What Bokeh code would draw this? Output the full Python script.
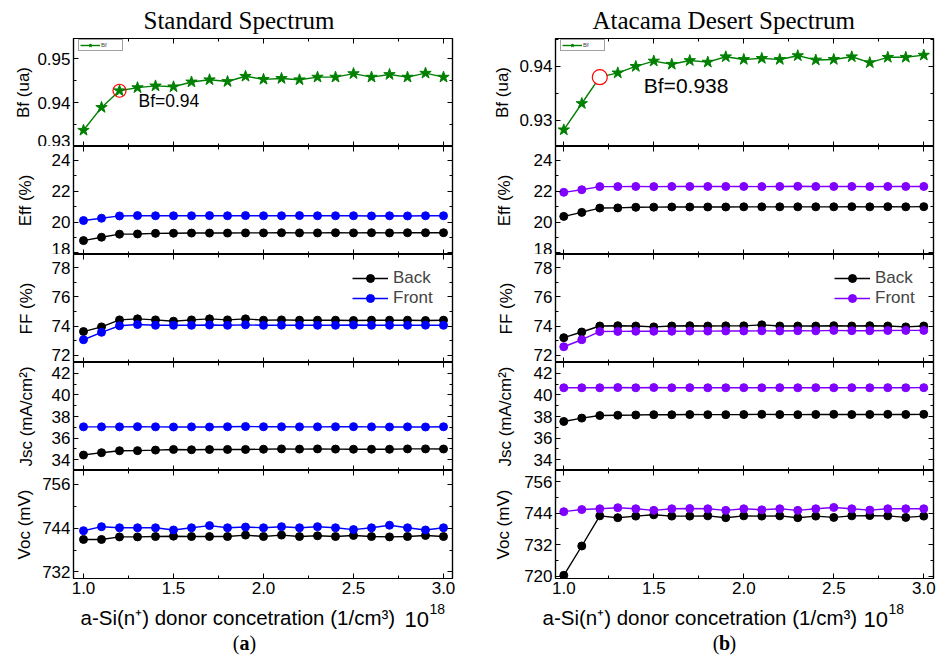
from bokeh.plotting import figure
from bokeh.models import (Range1d, LinearAxis, SingleIntervalTicker, Legend, LegendItem,
                          ColumnDataSource, Label, PrintfTickFormatter, CustomLabelingPolicy)
from bokeh.layouts import column, row
from bokeh.embed import file_html
from bokeh.resources import INLINE

# ---------------- data ----------------
conc = [1.0, 1.1, 1.2, 1.3, 1.4, 1.5, 1.6, 1.7, 1.8, 1.9, 2.0,
        2.1, 2.2, 2.3, 2.4, 2.5, 2.6, 2.7, 2.8, 2.9, 3.0]

# Standard spectrum
bf_std = [0.9337, 0.9389, 0.9427, 0.9434, 0.9438, 0.9436, 0.9447, 0.9452, 0.9448, 0.9460, 0.9453,
          0.9455, 0.9452, 0.9458, 0.9458, 0.9466, 0.9458, 0.9464, 0.9458, 0.9467, 0.9458]
eff_back_std = [18.80, 19.02, 19.22, 19.23, 19.27, 19.28, 19.29, 19.29, 19.29, 19.30, 19.30,
                19.31, 19.30, 19.30, 19.31, 19.30, 19.31, 19.30, 19.31, 19.31, 19.31]
eff_front_std = [20.10, 20.25, 20.40, 20.42, 20.41, 20.41, 20.41, 20.42, 20.41, 20.42, 20.41,
                 20.41, 20.42, 20.41, 20.41, 20.41, 20.40, 20.41, 20.40, 20.41, 20.41]
ff_back_std = [73.62, 73.94, 74.42, 74.49, 74.42, 74.33, 74.42, 74.49, 74.42, 74.49, 74.40,
               74.42, 74.40, 74.40, 74.40, 74.38, 74.40, 74.40, 74.40, 74.38, 74.40]
ff_front_std = [73.06, 73.57, 74.02, 74.10, 74.05, 74.05, 74.05, 74.07, 74.05, 74.08, 74.05,
                74.06, 74.05, 74.05, 74.05, 74.07, 74.05, 74.05, 74.05, 74.06, 74.05]
jsc_back_std = [34.43, 34.65, 34.83, 34.84, 34.89, 34.95, 34.92, 34.94, 34.95, 34.95, 34.97,
                35.00, 34.98, 35.00, 34.98, 34.97, 34.97, 34.97, 35.00, 35.00, 34.99]
jsc_front_std = [37.04, 37.04, 37.04, 37.06, 37.04, 37.03, 37.04, 37.03, 37.05, 37.07, 37.05,
                 37.05, 37.04, 37.04, 37.05, 37.06, 37.04, 37.03, 37.04, 37.03, 37.05]
voc_back_std = [740.9, 740.9, 741.6, 741.6, 741.7, 741.8, 741.7, 741.7, 741.7, 742.1, 741.7,
                742.1, 741.7, 741.9, 741.7, 742.0, 741.7, 741.6, 741.7, 742.0, 741.7]
voc_front_std = [743.3, 744.4, 744.1, 744.1, 744.1, 743.5, 744.1, 744.7, 744.1, 744.3, 744.1,
                 744.4, 744.1, 744.4, 744.1, 743.6, 744.1, 744.8, 744.1, 743.5, 744.1]

# Atacama desert spectrum
bf_ata = [0.9282, 0.9331, 0.9380, 0.9388, 0.9400, 0.9410, 0.9404, 0.9411, 0.9408, 0.9418, 0.9413,
          0.9415, 0.9413, 0.9420, 0.9412, 0.9413, 0.9418, 0.9407, 0.9417, 0.9417, 0.9421]
eff_back_ata = [20.37, 20.63, 20.91, 20.92, 20.96, 20.97, 20.98, 20.98, 20.98, 20.98, 20.99,
                20.99, 20.99, 20.99, 20.99, 20.99, 21.00, 20.99, 21.00, 20.99, 21.00]
eff_front_ata = [21.93, 22.10, 22.30, 22.30, 22.31, 22.30, 22.31, 22.31, 22.31, 22.31, 22.31,
                 22.30, 22.31, 22.32, 22.31, 22.31, 22.31, 22.30, 22.31, 22.31, 22.31]
ff_back_ata = [73.20, 73.59, 74.00, 74.02, 74.00, 73.94, 74.00, 74.02, 74.00, 74.01, 74.01,
               74.08, 74.00, 74.00, 74.00, 74.02, 74.00, 74.02, 74.00, 73.94, 74.00]
ff_front_ata = [72.58, 73.06, 73.62, 73.63, 73.64, 73.64, 73.64, 73.65, 73.65, 73.66, 73.66,
                73.67, 73.66, 73.68, 73.67, 73.70, 73.68, 73.68, 73.69, 73.70, 73.70]
jsc_back_ata = [37.54, 37.85, 38.09, 38.12, 38.14, 38.17, 38.16, 38.18, 38.17, 38.17, 38.18,
                38.20, 38.18, 38.17, 38.19, 38.20, 38.18, 38.19, 38.20, 38.19, 38.20]
jsc_front_ata = [40.66, 40.66, 40.66, 40.68, 40.66, 40.68, 40.66, 40.67, 40.66, 40.66, 40.67,
                 40.66, 40.67, 40.66, 40.67, 40.66, 40.67, 40.66, 40.67, 40.66, 40.67]
voc_back_ata = [720.3, 731.5, 743.0, 742.3, 742.9, 743.4, 742.9, 742.9, 743.0, 742.3, 743.0,
                742.9, 743.0, 742.3, 742.9, 742.4, 743.0, 743.1, 743.0, 742.4, 742.9]
voc_front_ata = [744.6, 745.4, 745.7, 746.1, 745.7, 745.1, 745.7, 745.8, 745.7, 745.1, 745.7,
                 745.3, 745.7, 745.1, 745.7, 746.2, 745.7, 745.2, 745.7, 745.7, 745.7]

titles = ["Standard Spectrum", "Atacama Desert Spectrum"]
panel_letters = ["a", "b"]
y_labels = ["Bf (ua)", "Eff (%)", "FF (%)", "Jsc (mA/cm\u00b2)", "Voc (mV)"]
x_label_main = "a-Si(n\u207a) donor concetration  (1/cm\u00b3)"
x_label_base = "10"
x_label_exp = "18"
series_names = ["Back", "Front"]

# ---------------- styling ----------------
SANS = "Liberation Sans"
SERIF = "Liberation Serif"
BLACK = "#000000"
GREEN = "#008000"
FRAME_H = 108
BOTTOM_AXIS = 20
CAP_H = 59
NO_LABELS = CustomLabelingPolicy(code="return []")


def style_axis(ax, labels=True):
    ax.major_tick_in = 5
    ax.major_tick_out = 0
    ax.minor_tick_in = 3
    ax.minor_tick_out = 0
    ax.axis_line_color = BLACK
    ax.axis_line_width = 1.2
    ax.major_tick_line_color = BLACK
    ax.minor_tick_line_color = BLACK
    if labels:
        ax.major_label_text_font = SANS
        ax.major_label_text_font_size = "17px"
        ax.major_label_text_color = BLACK
        ax.major_label_standoff = 3
        ax.axis_label_text_font = SANS
        ax.axis_label_text_font_size = "17px"
        ax.axis_label_text_font_style = "normal"
        ax.axis_label_text_color = BLACK
    else:
        ax.major_label_text_font_size = "0px"
        ax.major_label_standoff = 0
        ax.major_label_policy = NO_LABELS
        ax.axis_label = None


def make_panel(col, idx, x0, x1, yr, interval, ylabel, fw, bl, br, lab_standoff, title_off):
    top = idx == 0
    bottom = idx == 4
    p = figure(frame_width=fw, frame_height=FRAME_H,
               min_border_left=bl, min_border_right=br,
               min_border_top=38 if top else 0,
               min_border_bottom=BOTTOM_AXIS if bottom else 0,
               x_range=Range1d(x0, x1), y_range=Range1d(*yr),
               toolbar_location=None, output_backend="svg")
    p.grid.visible = False
    p.outline_line_color = BLACK
    p.outline_line_width = 1.2
    p.background_fill_color = "white"
    p.border_fill_color = "white"

    xa = p.xaxis[0]
    xa.ticker = SingleIntervalTicker(interval=0.5, num_minor_ticks=2)
    style_axis(xa, labels=bottom)
    if bottom:
        xa.formatter = PrintfTickFormatter(format="%.1f")
    ya = p.yaxis[0]
    ya.ticker = SingleIntervalTicker(interval=interval, num_minor_ticks=2)
    style_axis(ya, labels=True)
    ya.axis_label = ylabel
    ya.axis_label_standoff = lab_standoff

    ax_top = LinearAxis(ticker=SingleIntervalTicker(interval=0.5, num_minor_ticks=2))
    style_axis(ax_top, labels=False)
    p.add_layout(ax_top, "above")
    ax_right = LinearAxis(ticker=SingleIntervalTicker(interval=interval, num_minor_ticks=2))
    style_axis(ax_right, labels=False)
    p.add_layout(ax_right, "right")

    if top:
        p.title.text = titles[col]
        p.title.align = "left"
        p.title.offset = title_off
        p.title.text_font = SERIF
        p.title.text_font_size = "25px"
        p.title.text_font_style = "normal"
        p.title.text_color = BLACK
        p.title.standoff = 9
    return p


def make_caption(col, width, main_x, base_x, letter_x):
    """Strip below the bottom panel holding the x-axis title and the panel letter,
    laid out in pixel units of its own frame."""
    c = figure(frame_width=width, frame_height=CAP_H, min_border=0,
               x_range=Range1d(0, width), y_range=Range1d(0, CAP_H),
               x_axis_location=None, y_axis_location=None, frame_align=False,
               toolbar_location=None, output_backend="svg")
    c.grid.visible = False
    c.outline_line_color = None
    c.background_fill_color = "white"
    c.border_fill_color = "white"
    common = dict(text_font=SANS, text_color=BLACK, text_baseline="alphabetic")
    c.add_layout(Label(x=main_x, y=CAP_H - 19, text=x_label_main, text_font_size="20.5px",
                       text_align="left", **common))
    c.add_layout(Label(x=base_x, y=CAP_H - 21, text=x_label_base, text_font_size="22px",
                       text_align="left", **common))
    c.add_layout(Label(x=base_x + 25, y=CAP_H - 10, text=x_label_exp, text_font_size="14px",
                       text_align="left", **common))
    ser = dict(text_font=SERIF, text_color=BLACK, text_baseline="middle", text_font_size="20px")
    ly = CAP_H - 44
    c.add_layout(Label(x=letter_x - 5, y=ly, text="(", text_align="right", **ser))
    c.add_layout(Label(x=letter_x, y=ly, text=panel_letters[col], text_align="center",
                       text_font_style="bold", **ser))
    c.add_layout(Label(x=letter_x + 5, y=ly, text=")", text_align="left", **ser))
    return c


def add_pair(p, back, front, front_color):
    src = ColumnDataSource(dict(x=conc, back=back, front=front))
    p.line("x", "back", source=src, line_color=BLACK, line_width=1.4)
    p.scatter("x", "back", source=src, size=8, fill_color=BLACK, line_color=BLACK)
    p.line("x", "front", source=src, line_color=front_color, line_width=1.4)
    p.scatter("x", "front", source=src, size=8, fill_color=front_color, line_color=front_color)


def add_bf(p, bf, circ_size, circ_fill, label_text, font_size, xoff, yoff):
    src = ColumnDataSource(dict(x=conc, y=bf))
    l = p.line("x", "y", source=src, line_color=GREEN, line_width=1.4)
    s = p.scatter("x", "y", source=src, marker="star", size=12, fill_color=GREEN, line_color=GREEN)
    p.scatter([conc[2]], [bf[2]], marker="circle", size=circ_size, fill_color=circ_fill,
              line_color="#ff0000", line_width=1.2)
    p.add_layout(Label(x=conc[2], y=bf[2], x_offset=xoff, y_offset=yoff, text=label_text,
                       text_font=SANS, text_font_size=font_size, text_color=BLACK,
                       text_baseline="middle"))
    leg = Legend(items=[LegendItem(label="Bf", renderers=[l, s])], location=(5, FRAME_H - 13),
                 label_text_font=SANS, label_text_font_size="6px", label_height=8,
                 glyph_height=8, glyph_width=20, padding=1, spacing=0, margin=0,
                 label_standoff=1, border_line_color="#444444", border_line_width=1,
                 background_fill_alpha=1.0)
    p.add_layout(leg, "center")


def add_ff_legend(p, back, front, front_color, x_loc):
    r = []
    for c, vals in ((BLACK, back), (front_color, front)):
        src = ColumnDataSource(dict(x=conc, y=vals))
        ln = p.line("x", "y", source=src, line_color=c, line_width=1.4, visible=False)
        sc = p.scatter("x", "y", source=src, size=14, fill_color=c, line_color=c, visible=False)
        r.append([ln, sc])
    leg = Legend(items=[LegendItem(label=series_names[0], renderers=r[0]),
                        LegendItem(label=series_names[1], renderers=r[1])],
                 location=(x_loc, 54), label_text_font=SANS, label_text_font_size="17px",
                 label_height=20, glyph_height=20, glyph_width=36, padding=0, spacing=0,
                 margin=0, label_standoff=5, border_line_color=None,
                 background_fill_alpha=0.0, inactive_fill_alpha=0.0)
    p.add_layout(leg, "center")


def build_column(col, x0, x1, fw, bl, br, data, yranges, intervals, standoffs,
                 front_color, bfopts, textpos, title_off):
    figs = []
    for i in range(5):
        p = make_panel(col, i, x0, x1, yranges[i], intervals[i], y_labels[i], fw, bl, br,
                       standoffs[i], title_off)
        figs.append(p)
    add_bf(figs[0], data[0], *bfopts)
    add_pair(figs[1], data[1], data[2], front_color)
    add_pair(figs[2], data[3], data[4], front_color)
    add_ff_legend(figs[2], data[3], data[4], front_color, 279)
    add_pair(figs[3], data[5], data[6], front_color)
    add_pair(figs[4], data[7], data[8], front_color)
    figs.append(make_caption(col, bl + fw + br, *textpos))
    return column(*figs, spacing=0)


left = build_column(0, 0.9444, 3.05, 379, 73, 10,
                    [bf_std, eff_back_std, eff_front_std, ff_back_std, ff_front_std,
                     jsc_back_std, jsc_front_std, voc_back_std, voc_front_std],
                    [(0.93, 0.9546), (17.9, 24.9), (71.5, 78.9), (33.0, 43.0), (730.2, 759.8)],
                    [0.01, 2, 2, 2, 12], [1, 14, 13, 13, 5], "#0000ff",
                    (13, None, "Bf=0.94", "17.5px", 19, -10), (80, 404, 244), 70)
right = build_column(1, 0.954, 3.054, 378, 93, 9,
                     [bf_ata, eff_back_ata, eff_front_ata, ff_back_ata, ff_front_ata,
                      jsc_back_ata, jsc_front_ata, voc_back_ata, voc_front_ata],
                     [(0.9251, 0.9452), (17.9, 24.9), (71.5, 78.9), (33.0, 43.0), (719.1, 760.3)],
                     [0.01, 2, 2, 2, 12], [4, 17, 15, 16, 8], "#8000ff",
                     (15, "white", "Bf=0.938", "21px", 44, -8), (80, 401, 262), 37)

layout = row(left, right, spacing=0)
open("out.html", "w").write(file_html(layout, INLINE))
